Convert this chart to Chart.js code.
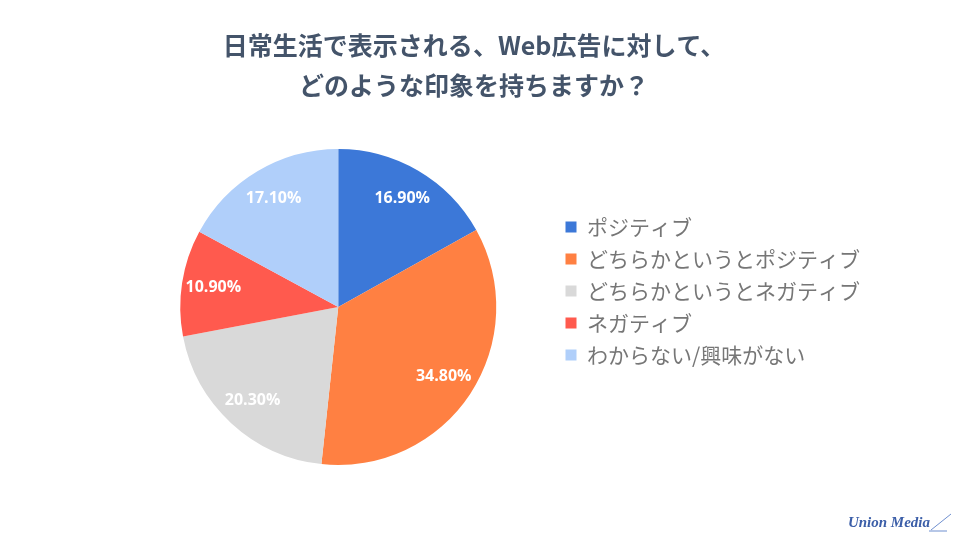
<!DOCTYPE html>
<html>
<head>
<meta charset="utf-8">
<script src="https://cdn.jsdelivr.net/npm/chart.js@4"></script>
<style>
    body { margin: 0; background: #ffffff; }
    #wrap { width: 960px; height: 538px; }
</style>
</head>
<body>
<div id="wrap"><canvas id="myChart" width="960" height="538"></canvas></div>
<script>
const titleLines = ['日常生活で表示される、Web広告に対して、', 'どのような印象を持ちますか？'];
const labelList = ['ポジティブ', 'どちらかというとポジティブ', 'どちらかというとネガティブ', 'ネガティブ', 'わからない/興味がない'];
const valueList = [16.9, 34.8, 20.3, 10.9, 17.1];
const colorList = ['#3c78d8', '#ff8042', '#d9d9d9', '#ff5a4e', '#b0cffa'];

// percent labels drawn on each slice (at 80% of the radius)
const sliceLabels = {
    id: 'sliceLabels',
    afterDatasetsDraw(chart) {
        const ctx = chart.ctx;
        const meta = chart.getDatasetMeta(0);
        ctx.save();
        ctx.fillStyle = '#ffffff';
        ctx.font = 'bold 16px "Open Sans", "Noto Sans", sans-serif';
        ctx.textAlign = 'center';
        ctx.textBaseline = 'middle';
        meta.data.forEach(function(arc, i) {
            const p = arc.getProps(['x', 'y', 'startAngle', 'endAngle', 'outerRadius'], true);
            const mid = (p.startAngle + p.endAngle) / 2;
            const r = p.outerRadius * 0.8;
            ctx.fillText(valueList[i].toFixed(2) + '%', p.x + Math.cos(mid) * r, p.y + Math.sin(mid) * r);
        });
        ctx.restore();
    }
};

// lift the legend a bit above the pie centre and centre the title on the page, like the original
const boxShift = {
    id: 'boxShift',
    afterLayout(chart) {
        chart.legend.top -= 16;
        chart.legend.bottom -= 16;
        chart.titleBlock.left -= 22;
        chart.titleBlock.right -= 22;
    }
};

// small brand mark in the bottom right corner
const brand = {
    id: 'brand',
    afterDraw(chart) {
        const ctx = chart.ctx;
        ctx.save();
        ctx.fillStyle = '#3b5ea8';
        ctx.font = 'italic bold 15px "Liberation Serif", serif';
        ctx.textAlign = 'right';
        ctx.textBaseline = 'middle';
        ctx.fillText('Union Media', 930, 523);
        ctx.strokeStyle = '#6f8fcf';
        ctx.lineWidth = 1;
        ctx.beginPath();
        ctx.moveTo(931, 530);
        ctx.lineTo(951, 514);
        ctx.moveTo(929, 531);
        ctx.lineTo(947, 531);
        ctx.stroke();
        ctx.restore();
    }
};

const myChart = document.getElementById('myChart').getContext('2d');

const pieChart = new Chart(myChart, {
    type: 'pie',
    data: {
        labels: labelList,
        datasets: [{
            data: valueList,
            backgroundColor: colorList,
            borderWidth: 0
        }]
    },
    options: {
        responsive: false,
        animation: false,
        layout: {
            padding: { top: 0, left: 122, right: 90, bottom: 73 }
        },
        plugins: {
            title: {
                display: true,
                text: titleLines,
                color: '#44546a',
                font: { family: '"Noto Sans CJK JP", sans-serif', size: 25, weight: 'bold', lineHeight: 1.6 },
                padding: { top: 25, bottom: 44 }
            },
            legend: {
                position: 'right',
                fullSize: false,
                labels: {
                    color: '#767676',
                    boxWidth: 11,
                    boxHeight: 11,
                    padding: 11,
                    font: { family: '"Noto Sans CJK JP", sans-serif', size: 21 }
                }
            },
            tooltip: { enabled: false }
        }
    },
    plugins: [sliceLabels, boxShift, brand]
});
</script>
</body>
</html>
